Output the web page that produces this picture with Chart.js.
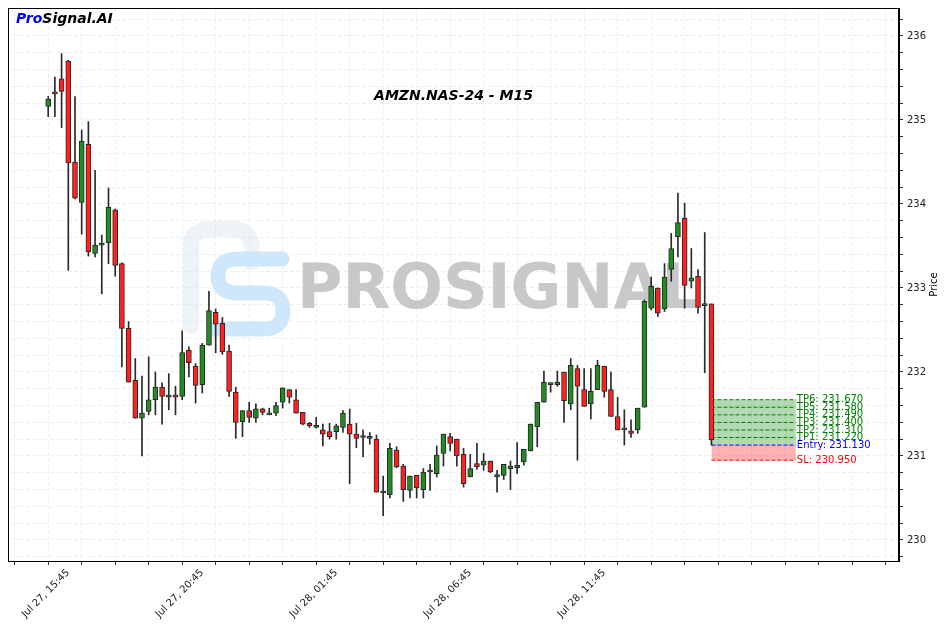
<!DOCTYPE html>
<html>
<head>
<meta charset="utf-8">
<title>AMZN.NAS-24 - M15</title>
<script src="https://cdn.jsdelivr.net/npm/chart.js@4.4.1/dist/chart.umd.min.js"></script>
<style>
    html, body { margin: 0; padding: 0; background: #fff; }
    #contenedor { width: 947px; height: 627px; position: relative; }
</style>
</head>
<body>
<div id="contenedor"><canvas id="grafico-velas"></canvas></div>
<script>
// Datos de las velas (una vela cada 15 minutos, índice 0 = Jul 27, 15:45)
const aperturas = [
    235.16, 235.32, 235.49, 235.70, 234.50, 234.02, 234.71, 233.41, 233.51, 233.54,
    233.93, 233.29, 232.52, 231.90, 231.45, 231.53, 231.67, 231.82, 231.70, 231.71,
    231.71, 232.26, 232.07, 231.85, 232.32, 232.71, 232.58, 232.25, 231.76, 231.41,
    231.54, 231.45, 231.56, 231.49, 231.51, 231.64, 231.79, 231.67, 231.52, 231.39,
    231.34, 231.31, 231.29, 231.29, 231.34, 231.38, 231.26, 231.22, 231.21, 231.20,
    230.56, 230.54, 231.07, 230.88, 230.59, 230.77, 230.60, 230.81, 230.79, 231.03,
    231.23, 231.20, 231.02, 230.75, 230.91, 230.89, 230.94, 230.75, 230.77, 230.85,
    230.86, 230.93, 231.06, 231.35, 231.64, 231.85, 231.85, 232.00, 231.62, 232.04,
    231.79, 231.62, 231.79, 232.07, 231.79, 231.47, 231.31, 231.30, 231.31, 231.58,
    232.76, 233.00, 232.75, 233.22, 233.61, 233.83, 233.08, 233.14, 232.79, 232.81
];
const maximos = [
    235.28, 235.51, 235.79, 235.71, 235.28, 234.88, 234.98, 234.40, 233.63, 234.19,
    233.94, 233.30, 232.60, 232.16, 231.95, 232.18, 232.00, 231.87, 231.98, 231.83,
    232.49, 232.30, 232.10, 232.34, 232.96, 232.75, 232.65, 232.32, 231.82, 231.54,
    231.64, 231.62, 231.57, 231.57, 231.64, 231.81, 231.79, 231.79, 231.52, 231.40,
    231.46, 231.38, 231.39, 231.38, 231.54, 231.56, 231.39, 231.31, 231.28, 231.25,
    230.76, 231.15, 231.11, 230.90, 230.76, 230.77, 230.85, 230.90, 231.12, 231.26,
    231.27, 231.20, 231.09, 231.02, 231.15, 231.03, 230.94, 230.83, 230.90, 230.94,
    231.16, 231.08, 231.38, 231.64, 232.01, 231.87, 232.01, 232.00, 232.16, 232.08,
    232.04, 232.04, 232.14, 232.07, 232.00, 231.70, 231.55, 231.43, 231.57, 232.86,
    233.13, 233.00, 233.29, 233.65, 234.13, 234.01, 233.47, 233.22, 233.66, 232.81
];
const minimos = [
    235.04, 235.04, 234.91, 233.21, 234.06, 233.64, 233.38, 233.37, 232.93, 233.29,
    233.14, 232.06, 231.88, 231.45, 231.00, 231.49, 231.49, 231.38, 231.55, 231.49,
    231.67, 231.94, 231.63, 231.75, 232.32, 232.23, 232.21, 231.71, 231.21, 231.23,
    231.40, 231.40, 231.49, 231.49, 231.48, 231.57, 231.63, 231.51, 231.37, 231.34,
    231.33, 231.12, 231.20, 231.20, 231.28, 230.67, 231.10, 230.99, 231.14, 230.57,
    230.29, 230.50, 230.86, 230.46, 230.50, 230.50, 230.50, 230.59, 230.75, 230.88,
    231.06, 230.88, 230.63, 230.75, 230.84, 230.83, 230.80, 230.57, 230.72, 230.60,
    230.79, 230.89, 231.06, 231.11, 231.64, 231.76, 231.83, 231.40, 231.55, 230.95,
    231.59, 231.44, 231.79, 231.70, 231.47, 231.31, 231.13, 231.22, 231.27, 231.58,
    232.74, 232.66, 232.72, 233.08, 233.37, 232.76, 233.00, 232.70, 231.99, 231.13
];
const cierres = [
    235.25, 235.31, 235.34, 234.49, 234.07, 234.75, 233.43, 233.51, 233.52, 233.96,
    233.27, 232.52, 231.88, 231.45, 231.51, 231.67, 231.82, 231.71, 231.705, 231.70,
    232.23, 232.11, 231.84, 232.32, 232.73, 232.57, 232.24, 231.77, 231.40, 231.54,
    231.46, 231.56, 231.52, 231.49, 231.60, 231.81, 231.70, 231.51, 231.38, 231.36,
    231.34, 231.26, 231.23, 231.36, 231.51, 231.26, 231.21, 231.22, 231.215, 230.57,
    230.56, 231.09, 230.87, 230.60, 230.76, 230.62, 230.81, 230.815, 231.01, 231.26,
    231.15, 231.00, 230.67, 230.85, 230.87, 230.94, 230.81, 230.78, 230.90, 230.88,
    230.89, 231.08, 231.38, 231.64, 231.88, 231.86, 231.88, 231.66, 232.08, 231.83,
    231.59, 231.77, 232.08, 231.77, 231.47, 231.31, 231.32, 231.27, 231.57, 232.84,
    233.02, 232.70, 233.13, 233.47, 233.78, 233.03, 233.12, 232.77, 232.795, 231.19
];

// Etiquetas del eje X (índice de vela donde va cada una)
const etiquetasTiempo = ['Jul 27, 15:45', 'Jul 27, 20:45', 'Jul 28, 01:45', 'Jul 28, 06:45', 'Jul 28, 11:45'];
const velasEtiquetadas = [0, 20, 40, 60, 80];

// Niveles de la señal
const nivelesTP = [231.22, 231.31, 231.40, 231.49, 231.58, 231.67];
const precioEntrada = 231.13;
const precioSL = 230.95;
const zonaDesde = 99;     // vela donde empieza la zona
const zonaHasta = 111.6;  // fin de la zona (en velas)

Chart.defaults.font.family = 'DejaVu Sans';

// Construir datasets de velas
const cuerpos = aperturas.map((o, i) => ({ x: i, y: [o, cierres[i]] }));
const mechas = minimos.map((l, i) => ({ x: i, y: [l, maximos[i]] }));
const coloresCuerpo = aperturas.map((o, i) => cierres[i] >= o ? '#228b22' : '#ff2020');

function lineaNivel(valor, color, relleno, colorRelleno) {
    return {
        type: 'line',
        data: [{ x: zonaDesde, y: valor }, { x: zonaHasta, y: valor }],
        borderColor: color,
        borderWidth: 1,
        borderDash: [4, 2],
        pointRadius: 0,
        fill: relleno ? { value: precioEntrada } : false,
        backgroundColor: colorRelleno || 'transparent'
    };
}

const datasets = [
    {
        label: 'cuerpos',
        data: cuerpos,
        backgroundColor: coloresCuerpo,
        borderColor: '#262626',
        borderWidth: 1,
        borderSkipped: false,
        barThickness: 5,
        minBarLength: 2,
        grouped: false
    },
    {
        label: 'mechas',
        data: mechas,
        backgroundColor: '#2a2a2a',
        borderWidth: 0,
        barThickness: 1,
        grouped: false
    },
    lineaNivel(precioEntrada, '#0000ff', false)
];
nivelesTP.forEach((tp, i) => {
    const esUltimo = i === nivelesTP.length - 1;
    datasets.push(lineaNivel(tp, '#008000', esUltimo, 'rgba(0,128,0,0.3)'));
});
datasets.push(lineaNivel(precioSL, '#ff0000', true, 'rgba(255,0,0,0.3)'));

// Marca de agua detrás de las velas
const marcaAgua = {
    id: 'marcaAgua',
    beforeDatasetsDraw(chart) {
        const ctx = chart.ctx;
        ctx.save();
        ctx.lineCap = 'round';
        ctx.lineJoin = 'round';
        // "P" casi invisible
        ctx.strokeStyle = 'rgba(205,220,235,0.35)';
        ctx.lineWidth = 16;
        ctx.beginPath();
        ctx.moveTo(191, 326);
        ctx.lineTo(191, 246);
        ctx.quadraticCurveTo(191, 229, 212, 229);
        ctx.lineTo(232, 229);
        ctx.quadraticCurveTo(252, 229, 252, 250);
        ctx.lineTo(252, 262);
        ctx.stroke();
        // "S" azul claro
        ctx.strokeStyle = '#cfe7fb';
        ctx.lineWidth = 15;
        ctx.beginPath();
        ctx.moveTo(282, 259);
        ctx.lineTo(238, 259);
        ctx.quadraticCurveTo(218, 259, 218, 276);
        ctx.quadraticCurveTo(218, 293, 238, 293);
        ctx.lineTo(264, 293);
        ctx.quadraticCurveTo(283, 293, 283, 311);
        ctx.quadraticCurveTo(283, 329, 263, 329);
        ctx.lineTo(214, 329);
        ctx.stroke();
        // texto
        ctx.fillStyle = '#c8c8c8';
        ctx.font = 'bold 62px "DejaVu Sans"';
        ctx.textAlign = 'left';
        ctx.textBaseline = 'alphabetic';
        ctx.fillText('PROSIGNAL', 297, 308);
        ctx.restore();
    }
};

// Textos: niveles, título, marca, marco
const textos = {
    id: 'textos',
    afterDatasetsDraw(chart) {
        const { ctx, scales: { x, y } } = chart;
        const xt = x.getPixelForValue(zonaHasta) + 1;
        ctx.save();
        ctx.font = '10px "DejaVu Sans"';
        ctx.textAlign = 'left';
        ctx.textBaseline = 'middle';
        ctx.fillStyle = '#008000';
        nivelesTP.forEach((tp, i) => {
            ctx.fillText('TP' + (i + 1) + ': ' + tp.toFixed(3), xt, y.getPixelForValue(tp));
        });
        ctx.fillStyle = '#0000ff';
        ctx.fillText('Entry: ' + precioEntrada.toFixed(3), xt, y.getPixelForValue(precioEntrada));
        ctx.fillStyle = '#ff0000';
        ctx.fillText('SL: ' + precioSL.toFixed(3), xt, y.getPixelForValue(precioSL));
        ctx.restore();
    },
    afterDraw(chart) {
        const { ctx, chartArea: a } = chart;
        ctx.save();
        // marco
        ctx.strokeStyle = '#000';
        ctx.lineWidth = 1;
        ctx.setLineDash([]);
        ctx.strokeRect(a.left + 0.5, a.top + 0.5, a.right - a.left - 1, a.bottom - a.top);
        // título
        ctx.fillStyle = '#000';
        ctx.font = 'italic bold 14px "DejaVu Sans"';
        ctx.textAlign = 'center';
        ctx.textBaseline = 'middle';
        ctx.fillText('AMZN.NAS-24 - M15', (a.left + a.right) / 2, a.top + 88);
        // ProSignal.AI
        ctx.textAlign = 'left';
        ctx.fillStyle = '#0000ff';
        ctx.fillText('Pro', a.left + 8, a.top + 11);
        const anchoPro = ctx.measureText('Pro').width;
        ctx.fillStyle = '#000';
        ctx.fillText('Signal.AI', a.left + 8 + anchoPro, a.top + 11);
        // título del eje Y
        ctx.font = '10px "DejaVu Sans"';
        ctx.textAlign = 'center';
        ctx.translate(934, (a.top + a.bottom) / 2);
        ctx.rotate(-Math.PI / 2);
        ctx.fillText('Price', 0, 0);
        ctx.restore();
    }
};

const esEntero = v => Math.abs(v - Math.round(v)) < 1e-6;

new Chart(document.getElementById('grafico-velas').getContext('2d'), {
    type: 'bar',
    data: { datasets: datasets },
    options: {
        responsive: true,
        maintainAspectRatio: false,
        animation: false,
        events: [],
        layout: { padding: { left: 8, top: 8, right: 0, bottom: 0 } },
        plugins: {
            legend: { display: false },
            tooltip: { enabled: false }
        },
        scales: {
            x: {
                type: 'linear',
                min: -6,
                max: 127,
                offset: false,
                grid: { offset: false, color: '#efefef', lineWidth: 1, tickLength: 4, tickColor: '#333' },
                border: { color: '#000', dash: [4, 2] },
                ticks: {
                    stepSize: 5,
                    includeBounds: false,
                    autoSkip: false,
                    minRotation: 45,
                    maxRotation: 45,
                    labelOffset: 20,
                    padding: 2,
                    color: '#222',
                    font: { size: 10 },
                    callback: v => {
                        if (!esEntero(v)) return '';
                        const k = velasEtiquetadas.indexOf(Math.round(v));
                        return k >= 0 ? etiquetasTiempo[k] : '';
                    }
                },
                afterFit: s => { s.height = 66; s.paddingLeft = 0; s.paddingRight = 0; }
            },
            y: {
                position: 'right',
                min: 229.75,
                max: 236.333,
                grid: { color: '#efefef', lineWidth: 1, tickLength: 4, tickColor: '#333' },
                border: { color: '#000', dash: [4, 2] },
                ticks: {
                    stepSize: 0.2,
                    includeBounds: false,
                    autoSkip: false,
                    padding: 4,
                    color: '#222',
                    font: { size: 10 },
                    callback: v => esEntero(v) ? String(Math.round(v)) : ''
                },
                afterFit: s => { s.width = 48; s.paddingTop = 0; s.paddingBottom = 0; }
            }
        }
    },
    plugins: [marcaAgua, textos]
});
</script>
</body>
</html>
